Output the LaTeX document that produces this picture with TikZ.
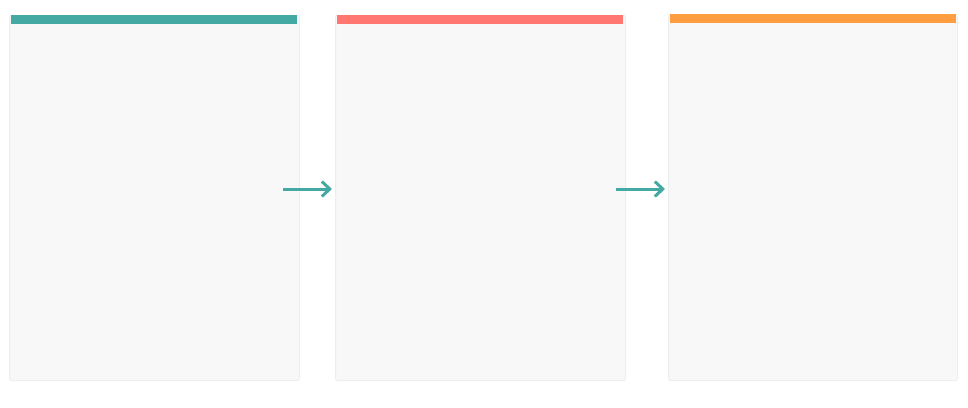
\documentclass[tikz,border=0pt]{standalone}
\usepackage{tikz}
\usetikzlibrary{arrows.meta}
\usepackage{color}
\definecolor{tealbar}{HTML}{45A9A3}
\definecolor{redbar}{HTML}{FF7770}
\definecolor{orangebar}{HTML}{FF9E40}
\definecolor{panelfill}{HTML}{F8F8F8}
\definecolor{panelline}{HTML}{EEEEEE}

\begin{document}
\begin{tikzpicture}[x=1pt,y=-1pt,
	panel/.style={draw=panelline,fill=panelfill,line width=1pt,rounded corners=2pt,
		minimum width=290pt,minimum height=365pt,inner sep=0pt,anchor=north west},
	topbar/.style={fill=#1,minimum width=286pt,minimum height=9pt,inner sep=0pt,anchor=north west},
	flow/.style={draw=tealbar,line width=3pt,-{Straight Barb[length=8pt,width=15pt,line width=3pt]}}]
	\useasboundingbox (0,0) rectangle (968,407);
	\node[panel] (collect) at (9,15) {};
	\node[panel] (process) at (335,15) {};
	\node[panel,minimum width=289pt] (result) at (668,15) {};
	\node[topbar=tealbar] (collectbar) at (11,15) {};
	\node[topbar=redbar] (processbar) at (337,15) {};
	\node[topbar=orangebar] (resultbar) at (669.5,14) {};
	\coordinate (out1) at (283,189);
	\coordinate (in2) at (332,189);
	\coordinate (out2) at (616,189);
	\coordinate (in3) at (665,189);
	\draw[flow] (out1) -- (in2);
	\draw[flow] (out2) -- (in3);
\end{tikzpicture}
\end{document}
